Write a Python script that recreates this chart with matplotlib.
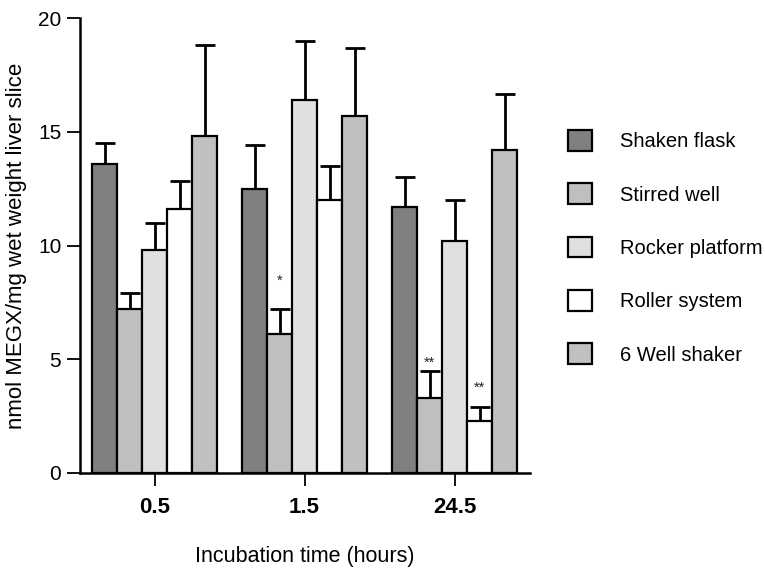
import matplotlib
matplotlib.use("Agg")
import matplotlib.pyplot as plt
import numpy as np
from matplotlib.patches import Patch

plt.rcParams['font.family'] = ['Liberation Sans', 'DejaVu Sans']

timepoints = ["0.5", "1.5", "24.5"]
systems = ["Shaken flask", "Stirred well", "Rocker platform", "Roller system", "6 Well shaker"]
colors = ["#808080", "#bfbfbf", "#e0e0e0", "#ffffff", "#c0c0c0"]

# mean MEGX formation per system, one list per system across the three timepoints
shaken_flask = [13.6, 12.5, 11.7]
stirred_well = [7.2, 6.1, 3.3]
rocker_platform = [9.8, 16.4, 10.2]
roller_system = [11.6, 12.0, 2.3]
well6_shaker = [14.8, 15.7, 14.2]

shaken_flask_err = [0.9, 1.9, 1.3]
stirred_well_err = [0.7, 1.1, 1.2]
rocker_platform_err = [1.2, 2.6, 1.8]
roller_system_err = [1.25, 1.5, 0.6]
well6_shaker_err = [4.0, 3.0, 2.45]

# (system index, timepoint index): (marker, gap above the error cap)
significance = {(1, 1): ("*", 0.95), (1, 2): ("**", 0.05), (3, 2): ("**", 0.55)}

means = [shaken_flask, stirred_well, rocker_platform, roller_system, well6_shaker]
errs = [shaken_flask_err, stirred_well_err, rocker_platform_err, roller_system_err, well6_shaker_err]

fig = plt.figure(figsize=(7.65, 5.69), dpi=100)
ax = fig.add_axes([80 / 765, 96 / 569, 450 / 765, 455 / 569])

group_pos = np.arange(len(timepoints)) * 6.0
width = 1.0
for i, (m, e, c, name) in enumerate(zip(means, errs, colors, systems)):
    x = group_pos + (i - 2) * width
    ax.bar(x, m, width=width, color=c, edgecolor="black", linewidth=1.6, label=name, zorder=2)
    ax.errorbar(x, m, yerr=[np.zeros(len(e)), e], fmt="none", ecolor="black",
                elinewidth=2.0, capsize=7.5, capthick=2.0, zorder=1)
    for j in range(len(timepoints)):
        if (i, j) in significance:
            mark, gap = significance[(i, j)]
            ax.text(x[j], m[j] + e[j] + gap, mark, ha="center", va="bottom",
                    fontsize=10.5, color="#222222")

ax.set_xlim(-2.98, 15.02)
ax.set_ylim(0, 20)
ax.set_yticks([0, 5, 10, 15, 20])
ax.set_xticks(group_pos)
ax.set_xticklabels(timepoints, fontweight="bold", fontsize=16)
ax.tick_params(axis="y", labelsize=15, length=9.5, width=1.3, direction="out", pad=4)
ax.tick_params(axis="x", length=9.5, width=1.3, direction="out", pad=8)
for s in ["top", "right"]:
    ax.spines[s].set_visible(False)
for s in ["left", "bottom"]:
    ax.spines[s].set_linewidth(1.8)

ax.set_ylabel("nmol MEGX/mg wet weight liver slice", fontsize=16, labelpad=8)
ax.set_xlabel("Incubation time (hours)", fontsize=15.5, labelpad=20)

handles = [Patch(facecolor=c, edgecolor="black", linewidth=1.6) for c in colors]
fig.legend(handles, systems, loc="upper left", bbox_to_anchor=(560 / 765, 1 - 122 / 569),
           frameon=False, fontsize=14.5, handlelength=1.2, handleheight=1.2,
           handletextpad=1.4, labelspacing=1.6, borderaxespad=0)

fig.savefig("out.png", dpi=100)
